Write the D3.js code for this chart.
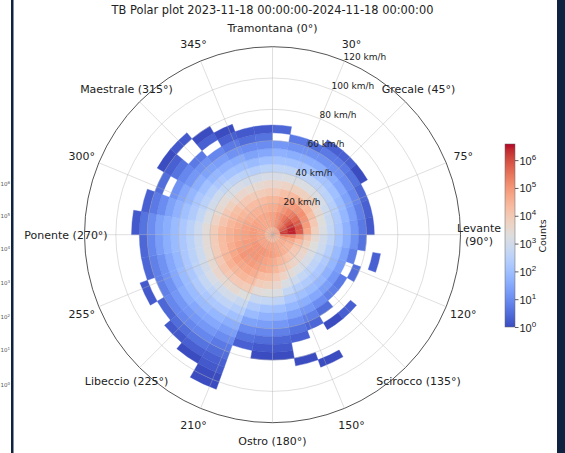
<!DOCTYPE html>
<html lang="en">
<head>
<meta charset="utf-8">
<title>TB Polar plot</title>
<script src="https://d3js.org/d3.v7.min.js"></script>
<style>
  body { margin: 0; background: #fff; }
  svg { display: block; font-family: 'DejaVu Sans', sans-serif; }
</style>
</head>
<body>
<svg width="565" height="453"></svg>
<script>
var _ = null; // empty bin

// direction bin edges (deg, clockwise from north) and speed bin edges (km/h)
var dirEdges = [0,10,20,30,40,50,60,70,80,90,100,110,120,130,140,150,160,170,180,
                190,200,210,220,230,240,250,260,270,280,290,300,310,320,330,340,350,360];
var speedEdges = [0,5,10,15,20,25,30,35,40,45,50,55,60,65,70,75,80,85,90,95,100,105];

// log10(counts) per direction bin (rows) and speed bin (columns)
var logCounts = [
  [4.5,4.8,4.8,4.6,4.4,4.0,3.6,3.1,2.6,2.1,1.7,1.2,_,0.4],
  [4.6,5.0,5.0,4.8,4.6,4.2,3.7,3.2,2.6,2.1,1.6,1.1,0.7],
  [4.6,5.1,5.2,5.0,4.8,4.3,3.8,3.2,2.6,2.1,1.6,1.1,0.5],
  [4.7,5.3,5.4,5.2,4.9,4.4,3.8,3.2,2.6,2.1,1.6,1.1,0.7,0.3],
  [4.7,5.5,5.7,5.4,5.0,4.4,3.8,3.2,2.6,2.1,1.6,1.1,0.7,0.3],
  [4.8,5.7,5.9,5.6,5.1,4.4,3.7,3.1,2.5,2.0,1.5,1.0,0.6,0.0],
  [4.8,5.9,6.2,5.8,5.0,4.2,3.5,2.9,2.4,1.9,1.4,0.9,0.4],
  [4.8,6.1,6.4,5.9,4.9,4.0,3.3,2.8,2.3,1.8,1.3,0.8,0.3],
  [4.8,6.2,6.4,5.8,4.7,3.8,3.2,2.7,2.2,1.7,1.2,0.7,0.2],
  [4.6,5.4,5.3,4.8,4.1,3.5,3.0,2.6,2.1,1.6,1.1,0.6],
  [4.5,4.9,4.7,4.3,3.8,3.3,2.9,2.4,1.9,1.4,0.8,_,_,0.3],
  [4.4,4.7,4.5,4.1,3.7,3.2,2.7,2.3,1.8,1.3,_,0.5],
  [4.4,4.6,4.4,4.0,3.6,3.1,2.6,2.2,1.7,1.2,0.7],
  [4.4,4.6,4.4,4.0,3.6,3.1,2.6,2.2,1.8,1.3,0.8,_,_,0.3],
  [4.4,4.6,4.5,4.1,3.7,3.2,2.7,2.3,1.9,1.5,1.0,0.5,_,0.0],
  [4.4,4.7,4.6,4.3,3.9,3.4,2.9,2.4,2.0,1.6,1.2,0.8,0.4,_,_,_,_,0.0],
  [4.4,4.7,4.7,4.4,4.1,3.7,3.2,2.7,2.2,1.8,1.4,1.0,0.6,0.3,_,_,0.0],
  [4.4,4.8,4.8,4.6,4.4,4.0,3.6,3.2,2.6,2.0,1.6,1.2,0.8,0.4,0.2,0.0],
  [4.4,4.8,4.9,4.7,4.6,4.2,3.8,3.3,2.7,2.1,1.7,1.3,0.9,0.5,0.2,0.0],
  [4.4,4.8,4.9,4.8,4.7,4.3,3.9,3.4,2.8,2.3,1.9,1.4,1.0,0.6,0.3],
  [4.4,4.8,5.0,4.9,4.8,4.6,4.3,3.9,3.3,2.8,2.4,2.0,1.6,1.3,1.0,0.7,0.5,0.3,0.2,0.0,0.0],
  [4.4,4.8,5.0,5.0,4.9,4.7,4.4,4.0,3.5,3.0,2.6,2.2,1.8,1.5,1.2,0.9,0.6,0.3,0.0],
  [4.4,4.8,5.0,5.0,4.9,4.7,4.4,4.0,3.5,3.0,2.6,2.2,1.9,1.5,1.2,0.9,0.5,0.2],
  [4.4,4.8,5.0,5.0,5.0,4.8,4.5,4.1,3.6,3.1,2.7,2.3,1.9,1.6,1.2,0.9,0.4],
  [4.4,4.8,5.0,4.9,4.9,4.7,4.4,4.0,3.5,3.0,2.6,2.2,1.9,1.5,1.1,0.8,_,0.2],
  [4.4,4.8,4.9,4.9,4.8,4.6,4.3,3.9,3.4,2.9,2.5,2.2,1.8,1.5,1.1,0.8,0.4],
  [4.4,4.8,4.9,4.8,4.7,4.5,4.3,3.9,3.4,2.9,2.5,2.2,1.9,1.6,1.3,0.9,0.4],
  [4.4,4.8,4.9,4.8,4.7,4.5,4.3,3.9,3.4,2.9,2.5,2.2,1.9,1.6,1.4,1.0,0.6,0.2],
  [4.4,4.8,4.9,4.8,4.6,4.4,4.1,3.7,3.2,2.7,2.3,2.0,1.7,1.4,1.0,0.7,0.3],
  [4.4,4.8,4.8,4.7,4.5,4.3,4.0,3.5,3.0,2.5,2.2,1.8,1.5,1.1,_,0.5],
  [4.4,4.8,4.8,4.6,4.4,4.2,3.8,3.4,2.9,2.4,2.0,1.6,1.2,0.9,0.6,0.3,0.0],
  [4.4,4.7,4.7,4.5,4.3,4.0,3.6,3.2,2.7,2.2,1.8,1.4,1.1,0.7,_,_,0.2],
  [4.4,4.7,4.7,4.5,4.3,4.0,3.6,3.1,2.6,2.1,1.7,1.3,0.9,_,0.3,0.0],
  [4.4,4.7,4.7,4.5,4.3,3.9,3.5,3.0,2.5,2.0,1.6,1.1,0.7,0.3,0.0],
  [4.4,4.7,4.7,4.5,4.3,3.9,3.5,3.0,2.4,1.9,1.4,1.0,0.5,0.2],
  [4.5,4.8,4.8,4.6,4.4,4.0,3.6,3.1,2.5,2.0,1.5,1.0,0.6,0.2]
];

var thetaAngles = [0,22.5,45,67.5,90,112.5,135,157.5,180,202.5,225,247.5,270,292.5,315,337.5];
var thetaLabels = ["Tramontana (0°)","30°","Grecale (45°)","75°","Levante\n(90°)","120°",
                   "Scirocco (135°)","150°","Ostro (180°)","210°","Libeccio (225°)","255°",
                   "Ponente (270°)","300°","Maestrale (315°)","345°"];
var speedTicks = [20,40,60,80,100,120];
var cbarExps = [0,1,2,3,4,5,6];
var logMax = 6.58;
var titleText = "TB Polar plot 2023-11-18 00:00:00-2024-11-18 00:00:00";

// matplotlib coolwarm
var coolwarm = [[59,76,192],[68,90,204],[77,104,215],[87,117,225],[98,130,234],[108,142,241],
  [119,154,247],[130,165,251],[141,176,254],[152,185,255],[163,194,255],[174,201,253],
  [184,208,249],[194,213,244],[204,217,238],[213,219,230],[221,221,221],[229,216,209],
  [236,211,197],[241,204,185],[245,196,173],[247,187,160],[247,177,148],[247,166,135],
  [244,154,123],[241,141,111],[236,127,99],[229,112,88],[222,96,77],[213,80,66],
  [203,62,56],[192,40,47],[180,4,38]];
var cmap = d3.piecewise(d3.interpolateRgb, coolwarm.map(function(c){ return d3.rgb(c[0],c[1],c[2]); }));
function colour(v){ return cmap(Math.max(0, Math.min(1, v / logMax))); }

var svg = d3.select("svg");
var cx = 272.5, cy = 234.7, R = 188;
var r = d3.scaleLinear().domain([0,120]).range([0,R]);
var ang = d3.scaleLinear().domain([0,360]).range([0, 2*Math.PI]);
var arc = d3.arc();

var g = svg.append("g").attr("transform", "translate(" + cx + "," + cy + ")");

var cells = [];
logCounts.forEach(function(row, i){
  row.forEach(function(v, j){
    if (v === null) return;
    cells.push({d0: dirEdges[i], d1: dirEdges[i+1], s0: speedEdges[j], s1: speedEdges[j+1], v: v});
  });
});

g.selectAll("path.cell").data(cells).join("path")
  .attr("class","cell")
  .attr("d", function(d){
    return arc({innerRadius: r(d.s0), outerRadius: r(d.s1), startAngle: ang(d.d0), endAngle: ang(d.d1)});
  })
  .attr("fill", function(d){ return colour(d.v); })
  .attr("stroke", function(d){ return colour(d.v); })
  .attr("stroke-width", 0.4);

// grid (on top, like matplotlib)
g.selectAll("circle.grid").data(speedTicks.slice(0,-1)).join("circle")
  .attr("r", function(d){ return r(d); })
  .attr("fill","none").attr("stroke","#b0b0b0").attr("stroke-width",0.8).attr("stroke-opacity",0.5);
g.selectAll("line.spoke").data(thetaAngles).join("line")
  .attr("x1",0).attr("y1",0)
  .attr("x2", function(d){ return R*Math.sin(ang(d)); })
  .attr("y2", function(d){ return -R*Math.cos(ang(d)); })
  .attr("stroke","#b0b0b0").attr("stroke-width",0.8).attr("stroke-opacity",0.5);
g.append("circle").attr("r", R).attr("fill","none").attr("stroke","#555").attr("stroke-width",1);

// radial labels at 22.5°
var rl = ang(22.5);
g.selectAll("text.rlab").data(speedTicks).join("text")
  .attr("x", function(d){ return r(d)*Math.sin(rl) - 1; })
  .attr("y", function(d){ return -r(d)*Math.cos(rl) - 1; })
  .attr("font-size", 9).attr("fill","#222")
  .text(function(d){ return d + " km/h"; });

// angular labels
var LR = 206.5;
thetaAngles.forEach(function(a, i){
  var x = LR*Math.sin(ang(a)), y = -LR*Math.cos(ang(a));
  var lines = thetaLabels[i].split("\n");
  var t = g.append("text").attr("text-anchor","middle").attr("font-size", 11).attr("fill","#222");
  lines.forEach(function(s, k){
    t.append("tspan").attr("x", x)
      .attr("y", y + 4 + (k - (lines.length-1)/2) * 13)
      .text(s);
  });
});

// title
svg.append("text").attr("x", 272.5).attr("y", 14).attr("text-anchor","middle")
  .attr("font-size", 11.4).attr("fill","#222").text(titleText);

// colorbar
var cbX = 505, cbW = 10, cbTop = 144, cbBot = 327;
var cbScale = d3.scaleLinear().domain([0, logMax]).range([cbBot, cbTop]);
var grad = svg.append("defs").append("linearGradient").attr("id","cbgrad")
  .attr("x1",0).attr("y1",1).attr("x2",0).attr("y2",0);
coolwarm.forEach(function(c, i){
  grad.append("stop").attr("offset", i/(coolwarm.length-1)).attr("stop-color", d3.rgb(c[0],c[1],c[2]));
});
svg.append("rect").attr("x",cbX).attr("y",cbTop).attr("width",cbW).attr("height",cbBot-cbTop)
  .attr("fill","url(#cbgrad)").attr("stroke","#666").attr("stroke-width",0.5);
var cbAxis = svg.append("g").attr("transform","translate(" + (cbX+cbW) + ",0)")
  .call(d3.axisRight(cbScale).tickValues(cbarExps).tickSize(3.5).tickFormat(""));
cbAxis.select(".domain").remove();
cbAxis.selectAll(".tick line").attr("stroke","#333").attr("stroke-width",0.8);
cbAxis.selectAll(".tick").append("text")
  .attr("x", 4.5).attr("y", 4).attr("fill","#222").attr("font-size",11).attr("text-anchor","start")
  .each(function(d){
    var t = d3.select(this);
    t.append("tspan").text("10");
    t.append("tspan").attr("font-size",8).attr("dy",-5).text(d);
  });
svg.append("text").attr("transform","translate(546,236) rotate(-90)")
  .attr("text-anchor","middle").attr("font-size",9.5).attr("fill","#222").text("Counts");

// page frame
svg.append("rect").attr("x",11).attr("y",0).attr("width",2.5).attr("height",453).attr("fill","#0f2340");
svg.append("rect").attr("x",557).attr("y",0).attr("width",8).attr("height",453).attr("fill","#0f2340");
var ghostY = [183,215,248,282,316,349,384];
svg.selectAll("text.ghost").data(ghostY).join("text")
  .attr("x", 0.5).attr("y", function(d){ return d + 3; }).attr("text-anchor","start")
  .attr("font-size",5.5).attr("fill","#555")
  .each(function(d, i){
    var t = d3.select(this);
    t.append("tspan").text("10");
    t.append("tspan").attr("font-size",4).attr("dy",-2.5).text(6 - i);
  });
</script>
</body>
</html>
